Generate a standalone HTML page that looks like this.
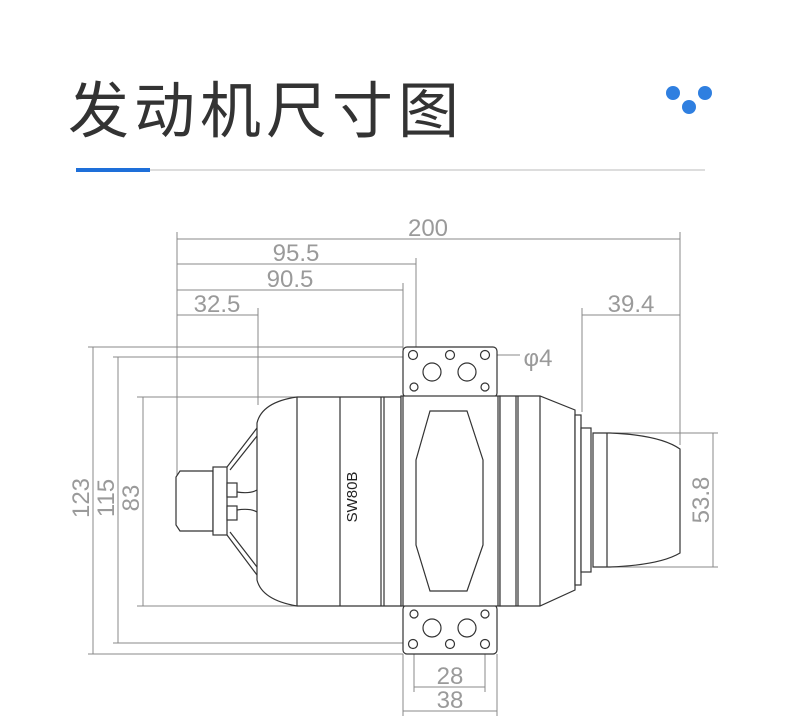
<!DOCTYPE html>
<html><head><meta charset="utf-8"><style>
html,body{margin:0;padding:0;background:#fff;}
svg{display:block;}
.d{font-family:"Liberation Sans",sans-serif;font-size:24px;fill:#9a9a9a;font-weight:normal;}
</style></head><body>
<svg width="790" height="728" viewBox="0 0 790 728" xmlns="http://www.w3.org/2000/svg">
<text x="68" y="132" font-family="'Liberation Sans','Noto Sans CJK SC',sans-serif" font-size="61" fill="#333" letter-spacing="5">发动机尺寸图</text>
<circle cx="673" cy="93" r="7" fill="#2f7fe0"/><circle cx="705" cy="93" r="7" fill="#2f7fe0"/><circle cx="689" cy="107" r="7" fill="#2f7fe0"/>
<line x1="76" y1="170" x2="705" y2="170" stroke="#bbb" stroke-width="1"/>
<line x1="76" y1="170" x2="150" y2="170" stroke="#1e6fd9" stroke-width="4"/>

<g stroke="#888" stroke-width="1" fill="none">
<line x1="177" y1="232" x2="177" y2="475"/>
<line x1="680" y1="232" x2="680" y2="445"/>
<line x1="416" y1="258" x2="416" y2="352"/>
<line x1="403" y1="283" x2="403" y2="350"/>
<line x1="258" y1="308" x2="258" y2="405"/>
<line x1="582" y1="308" x2="582" y2="412"/>
<line x1="177" y1="239" x2="680" y2="239"/>
<line x1="177" y1="264" x2="416" y2="264"/>
<line x1="177" y1="290" x2="403" y2="290"/>
<line x1="177" y1="315" x2="258" y2="315"/>
<line x1="582" y1="315" x2="680" y2="315"/>
<line x1="88" y1="347" x2="403" y2="347"/>
<line x1="88" y1="654" x2="403" y2="654"/>
<line x1="113" y1="357" x2="413" y2="357"/>
<line x1="113" y1="643" x2="413" y2="643"/>
<line x1="137" y1="397" x2="390" y2="397"/>
<line x1="137" y1="606" x2="390" y2="606"/>
<line x1="93" y1="347" x2="93" y2="654"/>
<line x1="118" y1="357" x2="118" y2="643"/>
<line x1="143" y1="397" x2="143" y2="606"/>
<line x1="600" y1="433" x2="718" y2="433"/>
<line x1="600" y1="567" x2="718" y2="567"/>
<line x1="713" y1="433" x2="713" y2="567"/>
<line x1="485" y1="355" x2="520" y2="355"/>
<line x1="414" y1="644" x2="414" y2="692"/>
<line x1="485" y1="644" x2="485" y2="692"/>
<line x1="403" y1="654" x2="403" y2="716"/>
<line x1="497" y1="654" x2="497" y2="716"/>
<line x1="414" y1="687" x2="485" y2="687"/>
<line x1="403" y1="711" x2="497" y2="711"/>
</g>

<g class="d">
<text x="428" y="236" text-anchor="middle">200</text>
<text x="296" y="261" text-anchor="middle">95.5</text>
<text x="290" y="287" text-anchor="middle">90.5</text>
<text x="217" y="312" text-anchor="middle">32.5</text>
<text x="631" y="312" text-anchor="middle">39.4</text>
<text x="538" y="366" text-anchor="middle">φ4</text>
<text x="450" y="684" text-anchor="middle">28</text>
<text x="450" y="708" text-anchor="middle">38</text>
<text transform="translate(89,498) rotate(-90)" text-anchor="middle">123</text>
<text transform="translate(114,498) rotate(-90)" text-anchor="middle">115</text>
<text transform="translate(139,498) rotate(-90)" text-anchor="middle">83</text>
<text transform="translate(709,500) rotate(-90)" text-anchor="middle">53.8</text>
</g>

<g stroke="#333" stroke-width="1.2" fill="#fff">
<rect x="403" y="347" width="94" height="50" rx="4"/>
<rect x="403" y="605" width="94" height="49" rx="4"/>
<path d="M297,397 L401,397 L401,606 L297,606 Q262,600 257,580 L257,423 Q262,402 297,397 Z"/>
<line x1="297" y1="397" x2="297" y2="606"/>
<line x1="340" y1="397" x2="340" y2="606"/>
<line x1="381" y1="397" x2="381" y2="606"/>
<line x1="384" y1="397" x2="384" y2="606"/>
<rect x="401" y="396" width="99" height="210"/>
<line x1="403" y1="396" x2="403" y2="606"/>
<line x1="498" y1="396" x2="498" y2="606"/>
<path d="M430,411 L467,411 L483,460 L483,545 L467,591 L430,591 L416,545 L416,460 Z"/>
<path d="M500,396 L540,396 L575,410 L575,590 L540,606 L500,606 Z"/>
<line x1="516" y1="396" x2="516" y2="606"/>
<line x1="518" y1="396" x2="518" y2="606"/>
<line x1="540" y1="396" x2="540" y2="606"/>
<rect x="575" y="415" width="6" height="170"/>
<rect x="581" y="428" width="10" height="144"/>
<path d="M593,433 L610,433 Q660,435 680,449 L680,553 Q660,565 610,567 L593,567 Z"/>
<line x1="607" y1="433" x2="607" y2="567"/>
<path d="M257,428 L227,467 M257,436 L230,470 M257,575 L227,535 M257,567 L230,532"/>
<path d="M180,471 L213,471 L213,531 L180,531 L176,525 L176,477 Z"/>
<rect x="213" y="467" width="14" height="68"/>
<rect x="227" y="483" width="10" height="14"/>
<rect x="227" y="506" width="10" height="14"/>
<path d="M237,492 Q250,494 257,490 M237,510 Q250,508 257,512" fill="none"/>
</g>
<g stroke="#333" stroke-width="1.2" fill="#fff">
<circle cx="413" cy="355" r="4.5"/><circle cx="450" cy="355" r="4.5"/><circle cx="485" cy="355" r="4.5"/>
<circle cx="432" cy="372" r="9"/><circle cx="467" cy="372" r="9"/>
<circle cx="414" cy="387" r="4"/><circle cx="485" cy="387" r="4"/>
<circle cx="414" cy="614" r="4"/><circle cx="485" cy="614" r="4"/>
<circle cx="432" cy="628" r="9"/><circle cx="467" cy="628" r="9"/>
<circle cx="413" cy="644" r="4.5"/><circle cx="450" cy="644" r="4.5"/><circle cx="485" cy="644" r="4.5"/>
</g>
<text transform="translate(357,497) rotate(-90)" text-anchor="middle" font-family="'Liberation Sans',sans-serif" font-size="15" fill="#222">SW80B</text>
</svg>
</body></html>
